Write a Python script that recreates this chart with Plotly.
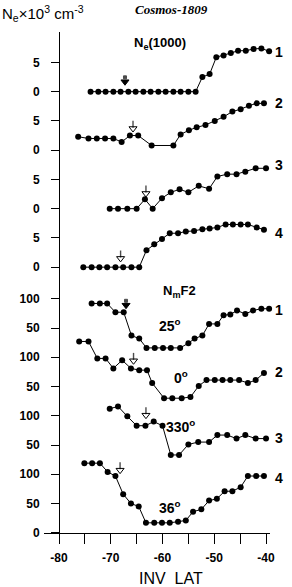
import plotly.graph_objects as go

# ---------------- data ----------------
ne1_lat = [-73.9, -72.4, -71.0, -69.5, -68.1, -66.6, -65.2, -63.7, -62.3, -60.8, -59.4, -57.9, -56.5, -55.0, -53.6,
           -52.3, -50.9, -49.6, -48.2, -46.8, -45.4, -43.9, -42.4, -40.9, -39.4]
ne1_val = [0, 0, 0, 0, 0, 0, 0, 0, 0, 0, 0, 0, 0, 0, 0,
           2.5, 3.0, 5.9, 6.2, 6.6, 7.0, 7.0, 7.3, 7.4, 6.9]

ne2_lat = [-76.3, -74.3, -72.7, -71.1, -69.5, -67.9, -66.3, -64.7, -62.1, -57.9, -56.5, -54.9, -53.4, -51.7,
           -49.9, -48.2, -46.5, -44.9, -43.3, -41.8, -40.4]
ne2_val = [2.3, 2.0, 2.0, 2.0, 2.0, 1.4, 2.5, 2.5, 0.8, 0.8, 2.7, 3.4, 3.9, 4.3, 5.0, 5.7, 6.6, 7.0, 7.6, 8.0, 8.0]

ne3_lat = [-70.2, -68.6, -66.8, -65.0, -63.4, -61.9, -60.1, -58.4, -56.7, -55.0, -53.0, -51.0, -49.4, -47.5,
           -45.7, -44.0, -42.0, -40.0]
ne3_val = [0, 0, 0, 0, 1.6, 0, 1.8, 2.8, 3.3, 2.8, 3.9, 3.4, 5.5, 5.9, 5.9, 6.3, 6.9, 6.9]

ne4_lat = [-75.3, -73.7, -72.2, -70.7, -69.1, -67.6, -66.0, -64.5, -63.1, -61.6, -60.1, -58.6, -57.0, -55.5,
           -53.9, -52.3, -50.9, -49.4, -47.8, -46.4, -44.9, -43.5, -41.8, -40.4]
ne4_val = [0, 0, 0, 0, 0, 0, 0, 0, 2.9, 3.9, 4.8, 5.8, 5.8, 6.1, 6.2, 6.5, 6.6, 6.8, 7.3, 7.3, 7.3, 7.3, 6.8, 6.4]

nm1_lat = [-73.7, -72.1, -70.7, -69.1, -67.5, -66.0, -64.5, -63.1, -61.5, -59.9, -58.4, -56.6, -55.0, -53.8,
           -52.3, -51.0, -49.4, -48.2, -46.9, -45.6, -44.0, -42.5, -40.9, -39.4]
nm1_val = [92, 92, 92, 77, 77, 37, 32, 16, 16, 16, 16, 16, 24, 32, 37, 57, 57, 72, 73, 80, 74, 80, 83, 83]

nm2_lat = [-76.1, -74.3, -72.6, -71.0, -69.5, -67.8, -66.1, -64.5, -63.0, -62.0, -59.7, -58.1, -56.3, -54.6,
           -53.0, -51.5, -49.9, -48.4, -46.9, -45.2, -43.5, -42.0, -40.4]
nm2_val = [127, 127, 98, 98, 81, 95, 81, 78, 78, 56, 30, 30, 30, 32, 51, 61, 61, 61, 61, 61, 56, 61, 73]

nm3_lat = [-70.2, -68.6, -66.8, -65.0, -63.3, -61.7, -60.0, -58.4, -56.8, -55.0, -53.1, -51.0, -49.4, -47.5,
           -45.7, -44.0, -42.0, -40.0]
nm3_val = [112, 116, 99, 83, 83, 90, 83, 33, 33, 51, 55, 55, 67, 67, 61, 67, 61, 61]

nm4_lat = [-75.1, -73.6, -72.1, -70.6, -69.1, -67.6, -66.1, -64.6, -63.2, -61.6, -60.1, -58.6, -57.0, -55.5,
           -54.1, -52.5, -51.0, -49.5, -48.0, -46.5, -44.9, -43.5, -41.9, -40.4]
nm4_val = [119, 119, 119, 104, 97, 66, 50, 45, 17, 17, 17, 17, 19, 21, 36, 40, 55, 58, 71, 71, 78, 97, 97, 97]

# arrow markers (latitude, value in series units)
ne_arrow_lat = [-67.25, -65.7, -63.2, -68.1]
ne_arrow_val = [2.0, 4.0, 2.9, 1.8]
nm_arrow_lat = [-67.05, -65.6, -63.2, -68.2]
nm_arrow_val = [92, 97, 104, 110]
arrow_solid = [True, False, False, False]

labels_num = ["1", "2", "3", "4"]
angles = ["25", "0", "330", "36"]

x_tick_vals = [-80, -75, -70, -65, -60, -55, -50, -45, -40]
x_tick_text = ["-80", "", "-70", "", "-60", "", "-50", "", "-40"]

# ---------------- layout constants ----------------
NE_BASE = [0, -10, -20, -30]
NM_BASE = [-45.4, -55.4, -65.4, -75.4]
NM_SCALE = 0.1
FONT = "Liberation Sans, Arial, sans-serif"
HEAD_OFF = -0.3   # y-offset (axis units) of arrow head relative to arrow centre
STEM_OFF = 0.45   # y-offset of arrow stem

fig = go.Figure()

ne_lats = [ne1_lat, ne2_lat, ne3_lat, ne4_lat]
ne_vals = [ne1_val, ne2_val, ne3_val, ne4_val]
nm_lats = [nm1_lat, nm2_lat, nm3_lat, nm4_lat]
nm_vals = [nm1_val, nm2_val, nm3_val, nm4_val]

for lat, val, base in zip(ne_lats, ne_vals, NE_BASE):
    fig.add_trace(go.Scatter(x=lat, y=[base + v for v in val], mode="lines+markers",
                             line=dict(color="black", width=1),
                             marker=dict(color="black", size=6), cliponaxis=False,
                             showlegend=False))
for lat, val, base in zip(nm_lats, nm_vals, NM_BASE):
    fig.add_trace(go.Scatter(x=lat, y=[base + v * NM_SCALE for v in val], mode="lines+markers",
                             line=dict(color="black", width=1),
                             marker=dict(color="black", size=6), cliponaxis=False,
                             showlegend=False))

# arrows drawn as markers: head (triangle) + stem (vertical line)
arrow_x, arrow_y, arrow_solid_all = [], [], []
for i in range(4):
    arrow_x.append(ne_arrow_lat[i]); arrow_y.append(NE_BASE[i] + ne_arrow_val[i]); arrow_solid_all.append(arrow_solid[i])
for i in range(4):
    arrow_x.append(nm_arrow_lat[i]); arrow_y.append(NM_BASE[i] + nm_arrow_val[i] * NM_SCALE); arrow_solid_all.append(arrow_solid[i])

fig.add_trace(go.Scatter(
    x=arrow_x, y=[y + HEAD_OFF for y in arrow_y], mode="markers", showlegend=False,
    marker=dict(symbol=["triangle-down" if s else "triangle-down-open" for s in arrow_solid_all],
                size=7, color="black", line=dict(color="black", width=1))))
fig.add_trace(go.Scatter(
    x=arrow_x, y=[y + STEM_OFF for y in arrow_y], mode="markers", showlegend=False,
    marker=dict(symbol=["square" if s else "line-ns-open" for s in arrow_solid_all],
                size=[3 if s else 5 for s in arrow_solid_all], color="black",
                line=dict(color="black", width=[1 if s else 1.4 for s in arrow_solid_all]))))

ann = []
# series numbers
ne_num_y = [6.8, -1.9, -12.5, -24.2]
nm_num_y = [-37.3, -47.9, -59.2, -66.0]
for i in range(4):
    ann.append(dict(x=1.066, y=ne_num_y[i], xref="paper", yref="y", showarrow=False,
                    text="<b>%s</b>" % labels_num[i], font=dict(size=14, color="black", family=FONT)))
    ann.append(dict(x=1.066, y=nm_num_y[i], xref="paper", yref="y", showarrow=False,
                    text="<b>%s</b>" % labels_num[i], font=dict(size=14, color="black", family=FONT)))

# angle labels
ang_pos = [(-58.6, -39.9), (-56.4, -48.8), (-56.6, -57.1), (-58.6, -71.0)]
for a, (la, yy) in zip(angles, ang_pos):
    ann.append(dict(x=la, y=yy, xref="x", yref="y", showarrow=False,
                    text="<b>%s<sup>o</sup></b>" % a, font=dict(size=14, color="black", family=FONT)))

ann.append(dict(x=-60.5, y=8.15, xref="x", yref="y", showarrow=False,
                text="<b>N<sub>e</sub>(1000)</b>", font=dict(size=13, color="black", family=FONT)))
ann.append(dict(x=-56.8, y=-34.1, xref="x", yref="y", showarrow=False,
                text="<b>N<sub>m</sub>F2</b>", font=dict(size=13, color="black", family=FONT)))
ann.append(dict(x=-0.195, y=1.036, xref="paper", yref="paper", showarrow=False, xanchor="left",
                yanchor="middle",
                text="N<sub>e</sub>×10<sup>3</sup> cm<sup>-3</sup>", font=dict(size=15, color="black", family=FONT)))
ann.append(dict(x=0.566, y=1.044, xref="paper", yref="paper", showarrow=False, yanchor="middle",
                text="<b><i>Cosmos-1809</i></b>", font=dict(size=13, color="black", family="Liberation Serif, serif")))
ann.append(dict(x=0.562, y=-0.09, xref="paper", yref="paper", showarrow=False, yanchor="middle",
                text="INV  LAT", font=dict(size=16, color="black", family=FONT)))

# y ticks
y_tick_vals = []
y_tick_text = []
for b in NE_BASE:
    y_tick_vals += [b + 5, b]
    y_tick_text += ["5", "0"]
for b in NM_BASE:
    y_tick_vals += [b + 100 * NM_SCALE, b + 50 * NM_SCALE]
    y_tick_text += ["100", "50"]
y_tick_vals.append(NM_BASE[-1])
y_tick_text.append("0")

X0, X1 = -82.9, -39.23
fig.update_layout(
    width=292, height=587,
    margin=dict(l=44, r=22, t=32, b=54),
    paper_bgcolor="white", plot_bgcolor="white",
    annotations=ann,
    xaxis=dict(range=[X0, X1], showgrid=False, zeroline=False, showline=True, linecolor="black", linewidth=1,
               ticks="outside", ticklen=10, tickcolor="black", tickwidth=1,
               tickvals=x_tick_vals, ticktext=x_tick_text, ticklabelstandoff=4,
               tickfont=dict(size=12, color="black", family=FONT, weight="bold")),
    yaxis=dict(range=[-75.44, 10.2], showgrid=False, zeroline=False, showline=True, linecolor="black", linewidth=1,
               anchor="free", position=(-80 - X0) / (X1 - X0),
               ticks="outside", ticklen=8, tickcolor="black", tickwidth=1,
               tickvals=y_tick_vals, ticktext=y_tick_text, ticklabelstandoff=9,
               tickfont=dict(size=12, color="black", family=FONT, weight="bold")),
)

fig.write_html("out.html", config={"displayModeBar": False})
